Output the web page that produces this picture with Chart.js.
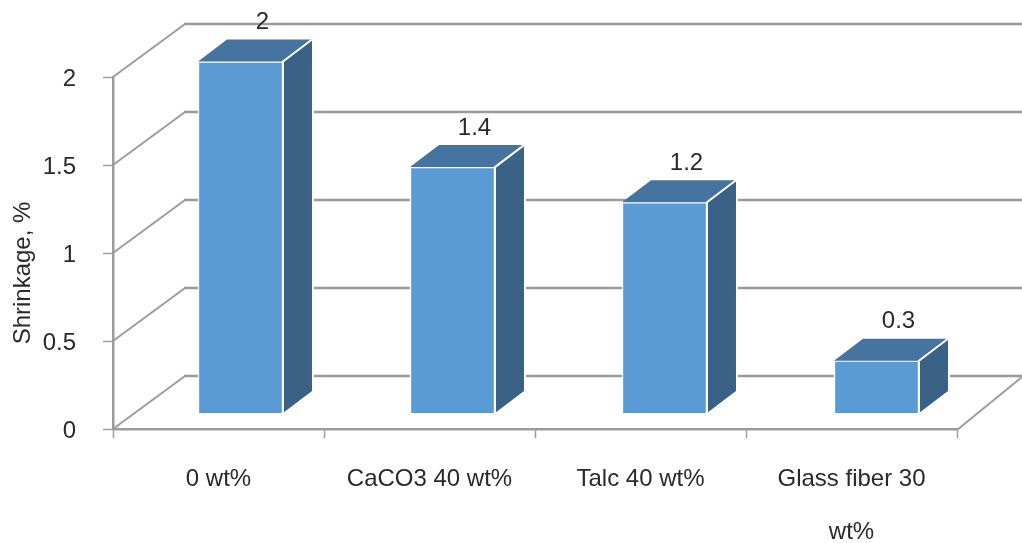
<!DOCTYPE html>
<html><head><meta charset="utf-8">
<script src="https://cdn.jsdelivr.net/npm/chart.js@4"></script>
<style>html,body{margin:0;padding:0;background:#fff}#w{width:1022px;height:543px;position:relative}</style>
</head><body><div id="w"><canvas id="c" width="1022" height="543"></canvas></div>
<script>
const categories = ['0 wt%', 'CaCO3 40 wt%', 'Talc 40 wt%', ['Glass fiber 30', 'wt%']];
const shrinkage = [2, 1.4, 1.2, 0.3];
const valueTicks = [0, 0.5, 1, 1.5, 2];
const yTitle = 'Shrinkage, %';

const FONT = '"Liberation Sans", Arial, sans-serif';
const TXT = '#2a2a2a', GRID = '#9c9c9c';
const FRONT = '#5b9bd5', TOP = '#4674a1', SIDE = '#3a6287';
const wall = {dx: 72, dy: -53}, bar = {dy: -15.5}, depth = {dx: 29, dy: -22};
let tickShifted = false;

const box3d = {
  id: 'box3d',
  beforeDraw(chart) {
    if (tickShifted) return;
    tickShifted = true;
    chart.scales.y.getLabelItems().forEach(it => { it.options.translation[1] += 2; });
  },
  beforeDatasetsDraw(chart) {
    const {ctx, scales: {y}, chartArea: a} = chart;
    ctx.save();
    ctx.strokeStyle = GRID;
    ctx.lineJoin = 'round';
    valueTicks.forEach(v => {
      const p = y.getPixelForValue(v);
      ctx.lineWidth = 2;
      ctx.beginPath();
      ctx.moveTo(a.left, p);
      ctx.lineTo(a.left + wall.dx, p + wall.dy);
      ctx.stroke();
      ctx.lineWidth = 2.5;
      ctx.beginPath();
      ctx.moveTo(a.left + wall.dx - 1, p + wall.dy);
      ctx.lineTo(chart.width, p + wall.dy);
      ctx.stroke();
    });
    ctx.lineWidth = 2;
    ctx.beginPath();
    ctx.moveTo(a.right, a.bottom + 1);
    ctx.lineTo(chart.width, a.bottom + 1 + wall.dy);
    ctx.stroke();
    ctx.restore();
    ctx.save();
    ctx.translate(0, bar.dy);
  },
  afterDatasetsDraw(chart) {
    const {ctx} = chart;
    const meta = chart.getDatasetMeta(0);
    ctx.lineWidth = 2;
    ctx.strokeStyle = '#ffffff';
    ctx.lineJoin = 'miter';
    meta.data.forEach(el => {
      const l = el.x - el.width / 2, r = el.x + el.width / 2, t = el.y, b = el.base;
      ctx.fillStyle = TOP;
      ctx.beginPath();
      ctx.moveTo(l, t); ctx.lineTo(l + depth.dx, t + depth.dy);
      ctx.lineTo(r + depth.dx, t + depth.dy); ctx.lineTo(r, t); ctx.closePath();
      ctx.fill();
      ctx.fillStyle = SIDE;
      ctx.beginPath();
      ctx.moveTo(r, t); ctx.lineTo(r + depth.dx, t + depth.dy);
      ctx.lineTo(r + depth.dx, b + depth.dy); ctx.lineTo(r, b); ctx.closePath();
      ctx.fill();
      ctx.beginPath();
      ctx.moveTo(r, b); ctx.lineTo(r, t); ctx.lineTo(r + depth.dx, t + depth.dy);
      ctx.stroke();
      ctx.beginPath();
      ctx.moveTo(r + depth.dx + 1, t + depth.dy);
      ctx.lineTo(r + depth.dx + 1, b + depth.dy + 1);
      ctx.stroke();
    });
    ctx.restore();
    ctx.save();
    ctx.fillStyle = TXT;
    ctx.font = '24px ' + FONT;
    ctx.textAlign = 'center';
    ctx.textBaseline = 'middle';
    meta.data.forEach((el, i) => ctx.fillText(String(shrinkage[i]), el.x + 22, el.y + bar.dy - 39));
    ctx.translate(23, 273);
    ctx.rotate(-Math.PI / 2);
    ctx.fillText(yTitle, 0, 0);
    ctx.restore();
  }
};

new Chart(document.getElementById('c'), {
  type: 'bar',
  data: {labels: categories, datasets: [{
    label: 'Shrinkage, %', data: shrinkage.map((v, i) => ({x: i, y: v})),
    xAxisID: 'xb',
    backgroundColor: FRONT, borderColor: '#ffffff', borderWidth: 1.5,
    barThickness: 85, clip: false
  }]},
  plugins: [box3d],
  options: {
    responsive: false, animation: false,
    layout: {padding: {top: 77, right: 65, bottom: 0, left: 0}},
    plugins: {legend: {display: false}, tooltip: {enabled: false}},
    scales: {
      x: {
        type: 'category',
        afterFit(s) { s.height = 114; },
        grid: {drawOnChartArea: false, tickLength: 9, tickWidth: 1.5, tickColor: GRID},
        border: {color: GRID, width: 2.5},
        ticks: {color: TXT, padding: 15, maxRotation: 0, autoSkip: false,
                font: {family: FONT, size: 24, lineHeight: 2.2}}
      },
      xb: {type: 'linear', display: false, offset: false, min: -0.6014, max: 3.3798},
      y: {
        min: 0, max: 2,
        afterFit(s) { s.width = 113; },
        afterBuildTicks(s) { s.ticks = valueTicks.map(v => ({value: v})); },
        grid: {drawOnChartArea: false, tickLength: 10, tickWidth: 1.5, tickColor: GRID},
        border: {color: GRID, width: 2.5},
        ticks: {color: TXT, padding: 27, font: {family: FONT, size: 24},
                callback: v => String(v)}
      }
    }
  }
});
</script></body></html>
